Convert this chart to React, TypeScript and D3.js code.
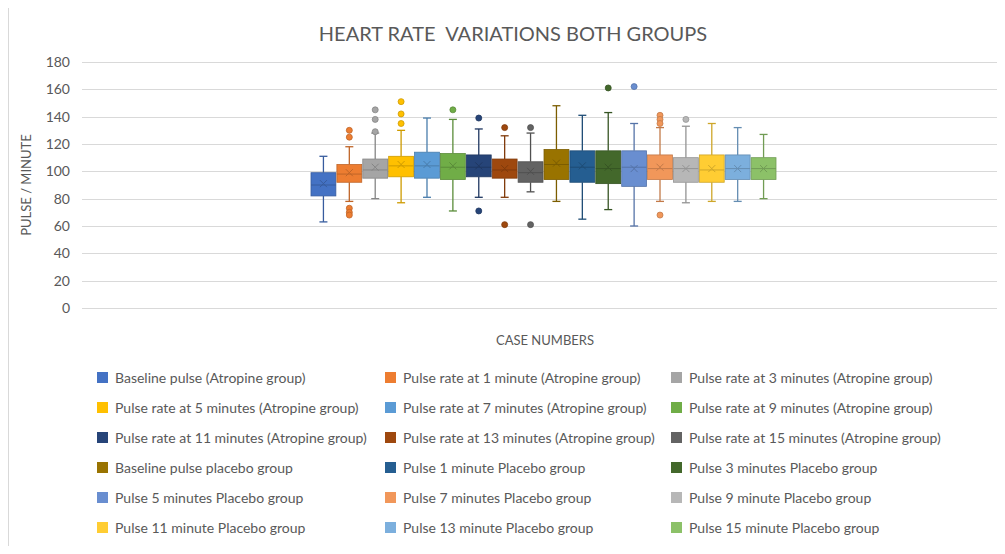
import React, { useRef, useEffect } from "react";
import * as d3 from "d3";

const seriesNames = [
  "Baseline pulse (Atropine group)",
  "Pulse rate at 1 minute (Atropine group)",
  "Pulse rate at 3 minutes (Atropine group)",
  "Pulse rate at 5 minutes (Atropine group)",
  "Pulse rate at 7 minutes (Atropine group)",
  "Pulse rate at 9 minutes (Atropine group)",
  "Pulse rate at 11 minutes (Atropine group)",
  "Pulse rate at 13 minutes (Atropine group)",
  "Pulse rate at 15 minutes (Atropine group)",
  "Baseline pulse placebo group",
  "Pulse 1 minute Placebo group",
  "Pulse 3 minutes Placebo group",
  "Pulse 5 minutes Placebo group",
  "Pulse 7 minutes Placebo group",
  "Pulse 9 minute Placebo group",
  "Pulse 11 minute Placebo group",
  "Pulse 13 minute Placebo group",
  "Pulse 15 minute Placebo group",
];

const colors = [
  "#4472C4", "#ED7D31", "#A5A5A5", "#FFC000", "#5B9BD5", "#70AD47",
  "#264478", "#9E480E", "#636363", "#997300", "#255E91", "#43682B",
  "#698ED0", "#F1975A", "#B7B7B7", "#FFCD33", "#7CAFDD", "#8CC168",
];

// box statistics
const whiskerLow = [63, 78, 80, 77, 81, 71, 81, 81, 85, 78, 65, 72, 60, 78, 77, 78, 78, 80];
const q1 = [82, 92, 95, 96, 95, 94, 96, 95, 92, 94, 92, 91, 89, 94, 92, 92, 94, 94];
const medians = [90, 98, 101, 104, 104, 103, 103, 101, 99, 105, 103, 102, 103, 102, 102, 101, 102, 102];
const means = [91, 99, 103, 105, 105, 104, 104, 102, 100, 106, 104, 103, 102, 103, 102, 102, 102, 102];
const q3 = [99, 105, 109, 111, 114, 113, 112, 109, 107, 116, 115, 115, 115, 112, 110, 112, 112, 110];
const whiskerHigh = [111, 118, 128, 130, 139, 138, 131, 126, 128, 148, 141, 143, 135, 132, 133, 135, 132, 127];
const outliers = [
  [],
  [130, 125, 73, 70, 68],
  [145, 138, 129],
  [151, 142, 135],
  [],
  [145],
  [139, 71],
  [132, 61],
  [132, 61],
  [],
  [],
  [161],
  [162],
  [141, 138, 135, 68],
  [138],
  [],
  [],
  [],
];

const yTicks = [0, 20, 40, 60, 80, 100, 120, 140, 160, 180];

const FONT = "Lato, 'Open Sans', sans-serif";
const TEXT = "#595959";

const App = () => {
  const divRef = useRef<HTMLDivElement>(null);

  useEffect(() => {
    const width = 1005;
    const height = 554;
    d3.select(divRef.current).selectAll("*").remove();
    const svg = d3
      .select(divRef.current)
      .append("svg")
      .attr("width", width)
      .attr("height", height)
      .style("display", "block")
      .style("font-family", FONT);

    svg.append("rect").attr("width", width).attr("height", height).attr("fill", "#fff");
    // chart border
    svg.append("line").attr("x1", 8.5).attr("x2", 8.5).attr("y1", 0).attr("y2", height)
      .attr("stroke", "#d9d9d9");

    const left = 82;
    const right = 1003;
    const top = 62;
    const bottom = 308;

    const y = d3.scaleLinear().domain([0, 180]).range([bottom, top]);
    const x = d3.scaleBand<string>().domain(seriesNames).range([311, 776]).paddingInner(0.04);

    // title
    svg.append("text").attr("x", 513).attr("y", 41).attr("text-anchor", "middle")
      .attr("font-size", 20).attr("fill", TEXT).attr("xml:space", "preserve")
      .text("HEART RATE  VARIATIONS BOTH GROUPS");

    // gridlines
    svg.append("g").selectAll("line").data(yTicks).join("line")
      .attr("x1", left).attr("x2", right)
      .attr("y1", (d) => Math.round(y(d)) + 0.5).attr("y2", (d) => Math.round(y(d)) + 0.5)
      .attr("stroke", "#d9d9d9");

    svg.append("g").selectAll("text").data(yTicks).join("text")
      .attr("x", 70).attr("y", (d) => y(d) + 5).attr("text-anchor", "end")
      .attr("font-size", 14).attr("fill", TEXT).text((d) => d);

    svg.append("text").attr("transform", `translate(31,${(top + bottom) / 2}) rotate(-90)`)
      .attr("text-anchor", "middle").attr("font-size", 13).attr("fill", TEXT)
      .text("PULSE / MINUTE");

    svg.append("text").attr("x", 545).attr("y", 345).attr("text-anchor", "middle")
      .attr("font-size", 13).attr("fill", TEXT).text("CASE NUMBERS");

    // boxes
    const bw = x.bandwidth();
    seriesNames.forEach((name, i) => {
      const g = svg.append("g");
      const cx = (x(name) as number) + bw / 2;
      const c = colors[i];
      const dark = d3.color(c)!.darker(0.6).formatHex();
      const cap = 4;
      g.append("line").attr("x1", cx).attr("x2", cx).attr("y1", y(whiskerHigh[i])).attr("y2", y(q3[i]))
        .attr("stroke", dark).attr("stroke-width", 1.3);
      g.append("line").attr("x1", cx).attr("x2", cx).attr("y1", y(q1[i])).attr("y2", y(whiskerLow[i]))
        .attr("stroke", dark).attr("stroke-width", 1.3);
      [whiskerHigh[i], whiskerLow[i]].forEach((v) => {
        g.append("line").attr("x1", cx - cap).attr("x2", cx + cap).attr("y1", y(v)).attr("y2", y(v))
          .attr("stroke", dark).attr("stroke-width", 1.3);
      });
      g.append("rect").attr("x", x(name) as number).attr("y", y(q3[i]))
        .attr("width", bw).attr("height", y(q1[i]) - y(q3[i]))
        .attr("fill", c).attr("stroke", dark).attr("stroke-width", 0.8);
      g.append("line").attr("x1", x(name) as number).attr("x2", (x(name) as number) + bw)
        .attr("y1", y(medians[i])).attr("y2", y(medians[i]))
        .attr("stroke", dark).attr("stroke-width", 1);
      const my = y(means[i]);
      const s = 3.5;
      g.append("path").attr("d", `M${cx - s},${my - s}L${cx + s},${my + s}M${cx - s},${my + s}L${cx + s},${my - s}`)
        .attr("stroke", dark).attr("stroke-width", 1);
      g.selectAll("circle").data(outliers[i]).join("circle")
        .attr("cx", cx).attr("cy", (d) => y(d)).attr("r", 3)
        .attr("fill", c).attr("stroke", dark).attr("stroke-width", 0.8);
    });

    // legend
    const colX = [97, 385, 671];
    const rowY = [378, 408, 438, 468, 498, 528];
    const legend = svg.append("g");
    seriesNames.forEach((name, i) => {
      const lx = colX[i % 3];
      const ly = rowY[Math.floor(i / 3)];
      legend.append("rect").attr("x", lx).attr("y", ly - 6).attr("width", 11).attr("height", 11)
        .attr("fill", colors[i]);
      legend.append("text").attr("x", lx + 18).attr("y", ly + 5).attr("font-size", 14)
        .attr("fill", TEXT).text(name);
    });
  }, []);

  return <div ref={divRef} style={{ margin: -8 }}></div>;
};

export default App;
